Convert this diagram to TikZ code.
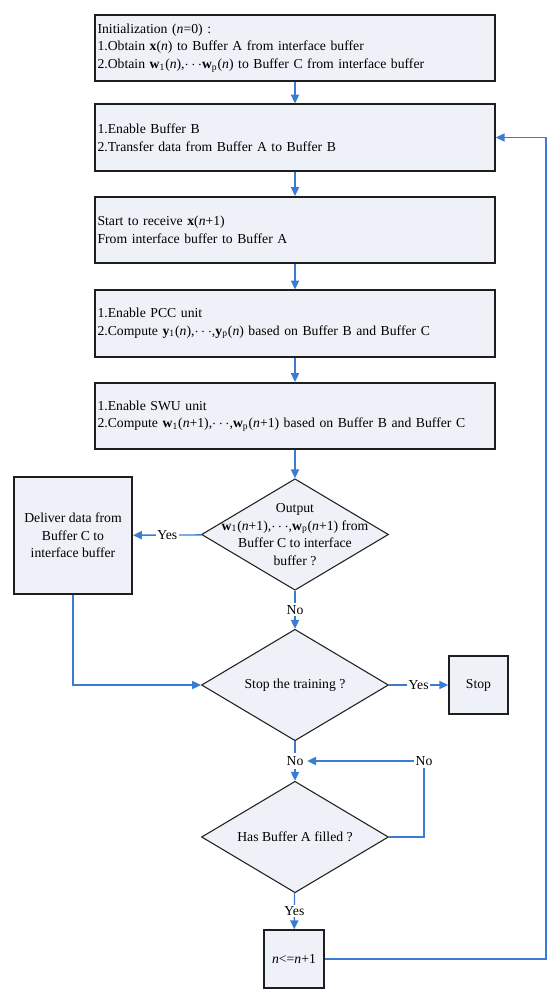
\documentclass[tikz,border=0pt]{standalone}
\usepackage{fontspec}
\setmainfont{Liberation Serif}
\usepackage{tikz}
\usetikzlibrary{arrows.meta}
\usetikzlibrary{shapes}
\definecolor{box_fill}{RGB}{238,241,247}
\definecolor{box_line}{RGB}{30,30,30}
\definecolor{flow_blue}{RGB}{58,124,210}

\begin{document}
\begin{tikzpicture}[x=0.02cm, y=-0.02cm, font=\fontsize{7.8}{10}\selectfont,
        step_style/.style={rectangle,draw=box_line,fill=box_fill,line width=0.9pt,minimum width=8cm,minimum height=1.33cm,text width=7.9cm,inner xsep=0.05cm,align=left},
        square_style/.style={rectangle,draw=box_line,fill=box_fill,line width=0.9pt,align=center,inner sep=1pt},
        decision_style/.style={diamond,draw=box_line,fill=box_fill,line width=0.6pt,minimum width=3.74cm,minimum height=2.23cm,inner sep=0pt},
        label_style/.style={fill=white,inner sep=1pt},
        edge_style/.style={draw=flow_blue, line width=0.8pt},
        arrow_style/.style={draw=flow_blue, line width=0.8pt,-{Triangle[length=5pt,width=4.6pt]}}]

        \useasboundingbox (0,0) rectangle (557,1000);

        \node [step_style] (b1) at (295,48) {Initialization (\textit{n}=0) :\\1.Obtain \textbf{x}(\textit{n}) to Buffer A from interface buffer\\2.Obtain \textbf{w}\textsubscript{1}(\textit{n}),$\cdots$\textbf{w}\textsubscript{p}(\textit{n}) to Buffer C from interface buffer};

        \node [step_style] (b2) at (295,137.5) {1.Enable Buffer B\\2.Transfer data from Buffer A to Buffer B};

        \node [step_style] (b3) at (295,230) {Start to receive \textbf{x}(\textit{n}+1)\\From interface buffer to Buffer A};

        \node [step_style] (b4) at (295,323.5) {1.Enable PCC unit\\2.Compute \textbf{y}\textsubscript{1}(\textit{n}),$\cdots$,\textbf{y}\textsubscript{p}(\textit{n}) based on Buffer B and Buffer C};

        \node [step_style] (b5) at (295,416) {1.Enable SWU unit\\2.Compute \textbf{w}\textsubscript{1}(\textit{n}+1),$\cdots$,\textbf{w}\textsubscript{p}(\textit{n}+1) based on Buffer B and Buffer C};

        \node [decision_style] (d1) at (295,534.5) {};
        \node [align=center] (d1_text) at (d1) {Output\\\textbf{w}\textsubscript{1}(\textit{n}+1),$\cdots$,\textbf{w}\textsubscript{p}(\textit{n}+1) from\\Buffer C to interface\\buffer ?};

        \node [square_style,minimum width=2.37cm,minimum height=2.34cm] (deliver) at (73,535.5) {Deliver data from\\Buffer C to\\interface buffer};

        \node [decision_style] (d2) at (295,685) {};
        \node (d2_text) at (d2) {Stop the training ?};

        \node [square_style,minimum width=1.18cm,minimum height=1.16cm] (stop) at (478.5,685) {Stop};

        \node [label_style,inner sep=2pt] (no2) at (295,761) {No};

        \node [label_style] (no3) at (424,761) {No};

        \node [decision_style] (d3) at (295,837) {};
        \node (d3_text) at (d3) {Has Buffer A filled ?};

        \node [square_style,minimum width=1.2cm,minimum height=1.16cm] (update) at (294,959) {\textit{n}<=\textit{n}+1};

        \coordinate (loop_turn) at (546,959);

        \draw [arrow_style] (b1) -- (b2);

        \draw [arrow_style] (b2) -- (b3);

        \draw [arrow_style] (b3) -- (b4);

        \draw [arrow_style] (b4) -- (b5);

        \draw [arrow_style] (b5) -- (d1);

        \draw [arrow_style] (d1) -- node [label_style] (yes1) {Yes} (deliver);

        \draw [arrow_style] (d1) -- node [label_style] (no1) {No} (d2);

        \draw [arrow_style] (deliver) |- (d2);

        \draw [arrow_style] (d2) -- node [label_style] (yes2) {Yes} (stop);

        \draw [edge_style] (d2) -- (no2);

        \draw [arrow_style] (no2) -- (d3);

        \draw [edge_style] (d3) -| (no3);

        \draw [arrow_style] (no3) -- (no2);

        \draw [arrow_style] (d3) -- node [label_style] (yes3) {Yes} (update);

        \draw [arrow_style] (update) -- (loop_turn) |- (b2);

        \end{tikzpicture}
\end{document}
